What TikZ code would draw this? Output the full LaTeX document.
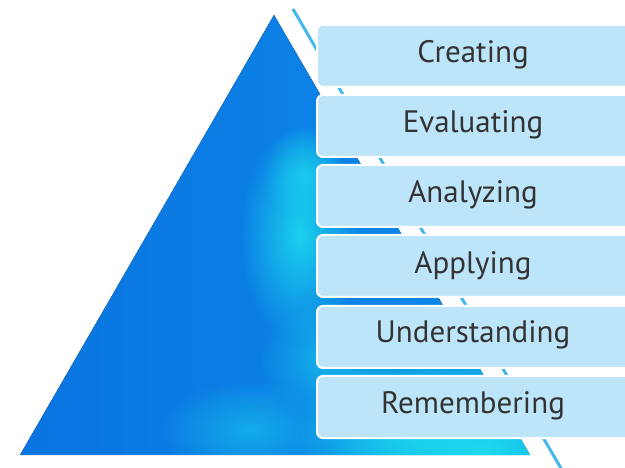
\documentclass[tikz,border=0pt]{standalone}
\usepackage{fontspec}
\setmainfont{PT Sans}
\usetikzlibrary{fadings}
\definecolor{boxfill}{HTML}{BDE5F9}
\definecolor{txt}{HTML}{333333}
\definecolor{linec}{HTML}{45B8EA}
\definecolor{tblue}{HTML}{0A7CE8}
\definecolor{tdark}{HTML}{0A74E0}
\definecolor{tcyan}{HTML}{1CDAEE}
\tikzfading[name=softblob, inner color=transparent!0, outer color=transparent!100]
\tikzset{
  level/.style={draw=white, line width=2pt, fill=boxfill, rounded corners=6pt,
    minimum width=330pt, minimum height=62pt, anchor=west, inner sep=0pt},
  lbl/.style={font=\fontsize{31}{34}\selectfont, text=txt, anchor=center},
  blob/.style={fill=tcyan, path fading=softblob},
}
\begin{document}
\begin{tikzpicture}[x=1pt,y=-1pt]
\useasboundingbox (0,0) rectangle (625,468);
\clip (0,0) rectangle (625,468);
% triangle
\coordinate (apex) at (274,15);
\coordinate (bl) at (20,455);
\coordinate (br) at (530,455);
\begin{scope}
  \clip (apex) -- (br) -- (bl) -- cycle;
  \fill[left color=tdark, right color=tblue!85!tcyan] (20,15) rectangle (530,455);
  \fill[blob, opacity=0.9] (300,235) ellipse (60pt and 110pt);
  \fill[blob, opacity=0.7] (305,175) ellipse (40pt and 50pt);
  \fill[blob, opacity=1] (480,450) ellipse (190pt and 120pt);
  \fill[blob, opacity=0.8] (420,430) ellipse (120pt and 70pt);
  \fill[blob, opacity=0.6] (330,360) ellipse (70pt and 60pt);
  \fill[blob, opacity=0.5] (250,430) ellipse (90pt and 50pt);
\end{scope}
% diagonal line
\coordinate (ltop) at (293,9);
\coordinate (lbot) at (562,470);
\draw[linec, line width=3pt] (ltop) -- (lbot);
% boxes
\node[level] (b1) at (316,56) {};
\node[level] (b2) at (316,126) {};
\node[level] (b3) at (316,196) {};
\node[level] (b4) at (316,266) {};
\node[level] (b5) at (316,337) {};
\node[level] (b6) at (316,407) {};
\node[lbl] (t1) at (473,55) {Creating};
\node[lbl] (t2) at (473,125) {Evaluating};
\node[lbl] (t3) at (473,195) {Analyzing};
\node[lbl] (t4) at (473,266) {Applying};
\node[lbl] (t5) at (473,335) {Understanding};
\node[lbl] (t6) at (473,406) {Remembering};
\end{tikzpicture}
\end{document}
